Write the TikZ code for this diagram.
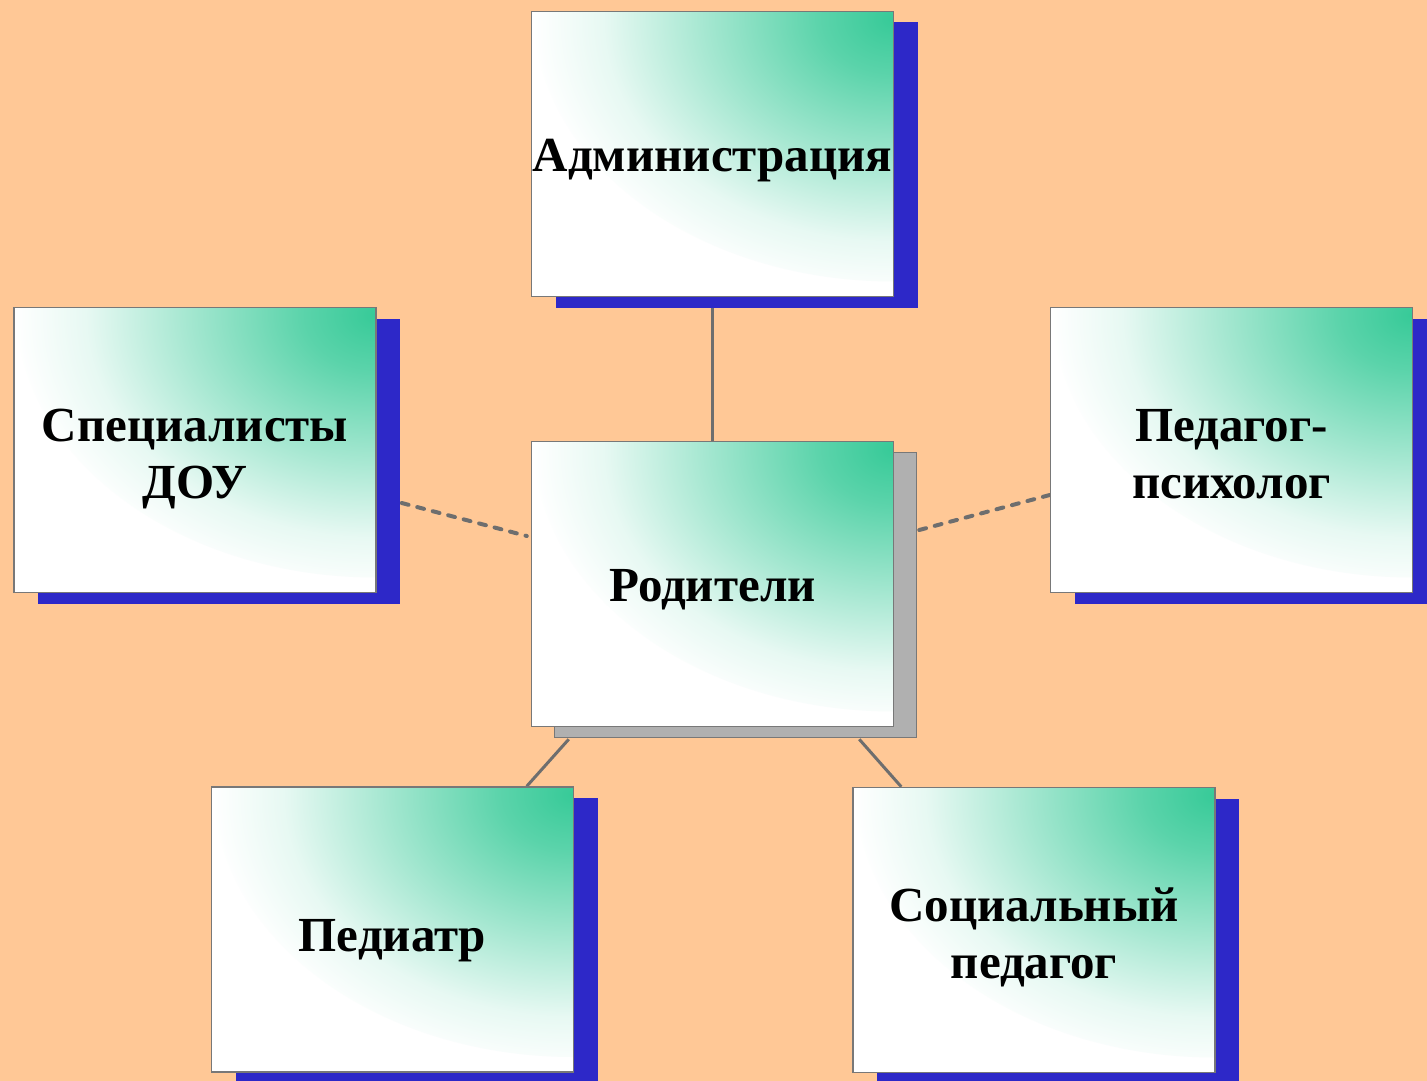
\documentclass[tikz,border=0pt]{standalone}
\usepackage{fontspec}
\setmainfont{Liberation Serif}
\usetikzlibrary{shadows,backgrounds}
\definecolor{bgpeach}{RGB}{255,200,150}
\definecolor{boxgreen}{RGB}{55,202,152}
\colorlet{gA}{boxgreen!82!white}
\colorlet{gB}{boxgreen!45!white}
\colorlet{gC}{boxgreen!12!white}
\definecolor{shblue}{RGB}{45,40,200}
\definecolor{shgray}{RGB}{176,176,176}
\definecolor{linegray}{RGB}{110,110,110}
\definecolor{edgegray}{RGB}{120,120,120}
\pgfdeclareradialshading{cornerfade}{\pgfpoint{0bp}{0bp}}{color(0bp)=(boxgreen); color(5bp)=(gA); color(13bp)=(gB); color(20bp)=(gC); color(25bp)=(white); color(50bp)=(white)}
\tikzset{
  box/.style={draw=edgegray, line width=1.5pt, minimum width=362pt, minimum height=285pt,
    inner sep=0pt, align=center, text=black, fill=white,
    font=\fontsize{49}{57}\selectfont\bfseries,
    path picture={\shade[shading=cornerfade]
      (path picture bounding box.north east) ellipse [x radius=360pt, y radius=270pt];}},
  oneline/.style={text height=40pt, text depth=6pt},
  twoline/.style={text height=100pt, text depth=4pt},
  blueshadow/.style={general shadow={fill=shblue, shadow xshift=24pt, shadow yshift=-11pt}},
  grayshadow/.style={general shadow={fill=shgray, draw=edgegray, line width=1pt, shadow xshift=23pt, shadow yshift=-11pt}},
  solidlink/.style={draw=linegray, line width=3pt},
  dashlink/.style={draw=linegray, line width=4pt, line cap=round, dash pattern=on 7pt off 9pt},
}
\begin{document}
\begin{tikzpicture}[x=1pt, y=-1pt]
  \useasboundingbox (0,0) rectangle (1427,1081);
  \begin{scope}[on background layer]
    \fill[bgpeach] (0,0) rectangle (1427,1081);
  \end{scope}

  \node[box, blueshadow, oneline] (admin) at (712.5,154) {Администрация};
  \node[box, grayshadow, oneline] (par) at (712.5,584) {Родители};
  \node[box, blueshadow, twoline] (spec) at (195,450) {Специалисты\\ДОУ};
  \node[box, blueshadow, twoline] (psy) at (1231.5,450) {Педагог-\\психолог};
  \node[box, blueshadow, oneline, text height=46pt, text depth=3pt] (ped) at (392.5,929.5) {Педиатр};
  \node[box, blueshadow, twoline] (soc) at (1034,930) {Социальный\\педагог};

  \begin{scope}[on background layer]
    \draw[solidlink] (admin.south) -- (par.north);
    \draw[dashlink] ([xshift=25pt,yshift=-53pt]spec.east) -- ([xshift=-4pt,yshift=48pt]par.west);
    \draw[dashlink] ([xshift=25pt,yshift=54pt]par.east) -- ([yshift=-45pt]psy.west);
    \draw[solidlink] ([xshift=38pt,yshift=-12pt]par.south west) -- ([xshift=316pt]ped.north west);
    \draw[solidlink] ([xshift=-35pt,yshift=-12pt]par.south east) -- ([xshift=49pt]soc.north west);
  \end{scope}
\end{tikzpicture}
\end{document}
